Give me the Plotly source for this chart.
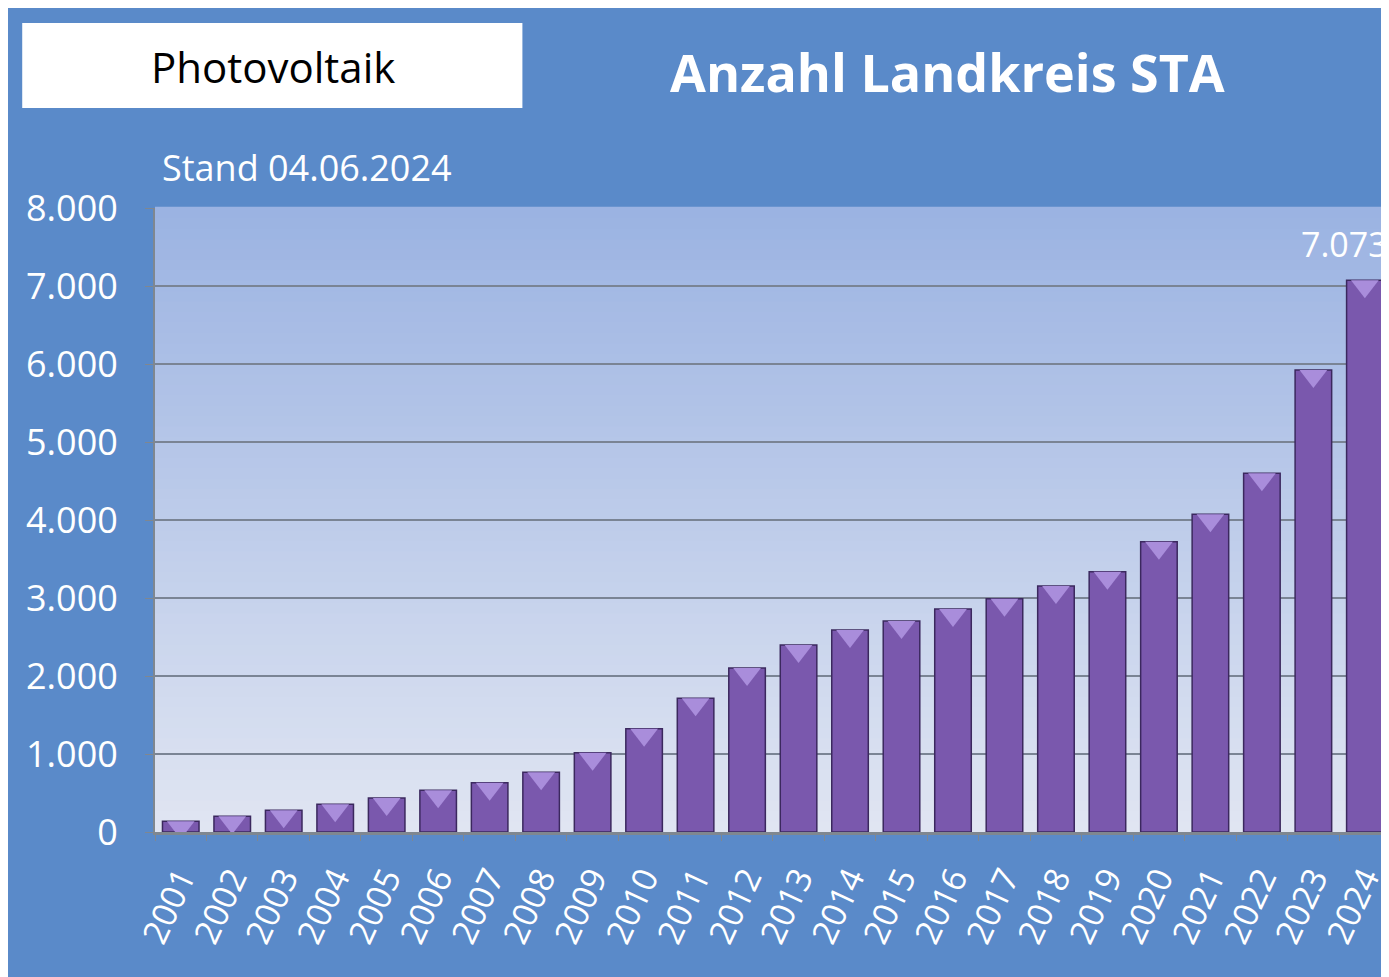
import plotly.graph_objects as go

years = [str(y) for y in range(2001, 2025)]
counts = [138, 202, 278, 355, 436, 535, 632, 765, 1015, 1324, 1716, 2103, 2397,
          2590, 2705, 2859, 2991, 3154, 3337, 3722, 4073, 4599, 5923, 7073]
y_ticks = [0, 1000, 2000, 3000, 4000, 5000, 6000, 7000, 8000]
last_label = "7.073"

OFF = 8  # page body margin
W, H = 1389 - OFF, 977 - OFF
L, T, B = 155 - OFF, 208 - OFF, 832 - OFF
PW, PH = W - L, B - T
Y_MAX = 8000


def px(x):  # page pixel -> paper fraction
    return (x - OFF - L) / PW


def py(y):
    return 1 - (y - OFF - T) / PH


BLUE = "#5a8ac9"
FONT = "Open Sans"

fig = go.Figure()
fig.add_trace(go.Bar(
    x=years, y=counts,
    marker=dict(color="#7a58ad", line=dict(color="#3b285e", width=1.5)),
    hoverinfo="x+y",
))
# bevel highlight on each bar top
cap_units = 6 * Y_MAX / PH
fig.add_trace(go.Scatter(
    x=years, y=[c - cap_units for c in counts], mode="markers",
    marker=dict(symbol="triangle-down", size=24, color="#a98ddb",
                line=dict(width=0)),
    hoverinfo="skip", cliponaxis=True,
))

shapes = []
top_c = (0x9b, 0xb3, 0xe2)
bot_c = (0xe0, 0xe5, 0xf2)
n = 60
for i in range(n):
    f = i / (n - 1)
    c = tuple(round(bot_c[k] + (top_c[k] - bot_c[k]) * f) for k in range(3))
    shapes.append(dict(type="rect", xref="paper", yref="paper",
                       x0=0, x1=1.02, y0=i / n, y1=(i + 1) / n + 0.002,
                       fillcolor="rgb(%d,%d,%d)" % c, line=dict(width=0),
                       layer="below"))
shapes.append(dict(type="rect", xref="paper", yref="paper",
                   x0=px(22), x1=px(523), y0=py(108), y1=py(23),
                   fillcolor="white", line=dict(width=0), layer="above"))

annotations = [
    dict(text="Photovoltaik", xref="paper", yref="paper", x=px(273), y=py(67),
         xanchor="center", yanchor="middle", showarrow=False,
         font=dict(family=FONT, size=42, color="black")),
    dict(text="<b>Anzahl Landkreis STA</b>", xref="paper", yref="paper",
         x=px(949), y=py(71), xanchor="center", yanchor="middle", showarrow=False,
         font=dict(family=FONT, size=52, color="white")),
    dict(text="Stand 04.06.2024", xref="paper", yref="paper",
         x=px(160), y=py(167), xanchor="left", yanchor="middle", showarrow=False,
         font=dict(family=FONT, size=36, color="white")),
    dict(text=last_label, x=len(years) - 1, y=counts[-1], xref="x", yref="y",
         xanchor="center", yanchor="bottom", showarrow=False, xshift=-20, yshift=11,
         font=dict(family=FONT, size=34, color="white")),
]

fig.update_layout(
    width=W, height=H,
    margin=dict(l=L, r=0, t=T, b=H - B, pad=0),
    paper_bgcolor=BLUE,
    plot_bgcolor="rgba(0,0,0,0)",
    separators=",.",
    bargap=0.29,
    showlegend=False,
    shapes=shapes,
    annotations=annotations,
    font=dict(family=FONT, color="white"),
)
fig.update_xaxes(
    type="category", range=[-0.5, 23.43],
    tickangle=-65, tickfont=dict(family=FONT, size=34, color="white"),
    showline=True, linecolor="#7f8790", linewidth=3,
    ticks="outside", tickson="boundaries", ticklen=6, tickcolor="#7f8790",
    ticklabelstandoff=10, showgrid=False,
)
fig.update_yaxes(
    range=[0, Y_MAX], tickvals=y_ticks, tickformat=",d",
    tickfont=dict(family=FONT, size=36, color="white"),
    showline=True, linecolor="#7f8790", linewidth=2,
    ticks="outside", ticklen=8, tickcolor="#7f8790", ticklabelstandoff=20,
    showgrid=True, gridcolor="#7a8494", gridwidth=2, zeroline=False,
)

fig.write_html("out.html")
